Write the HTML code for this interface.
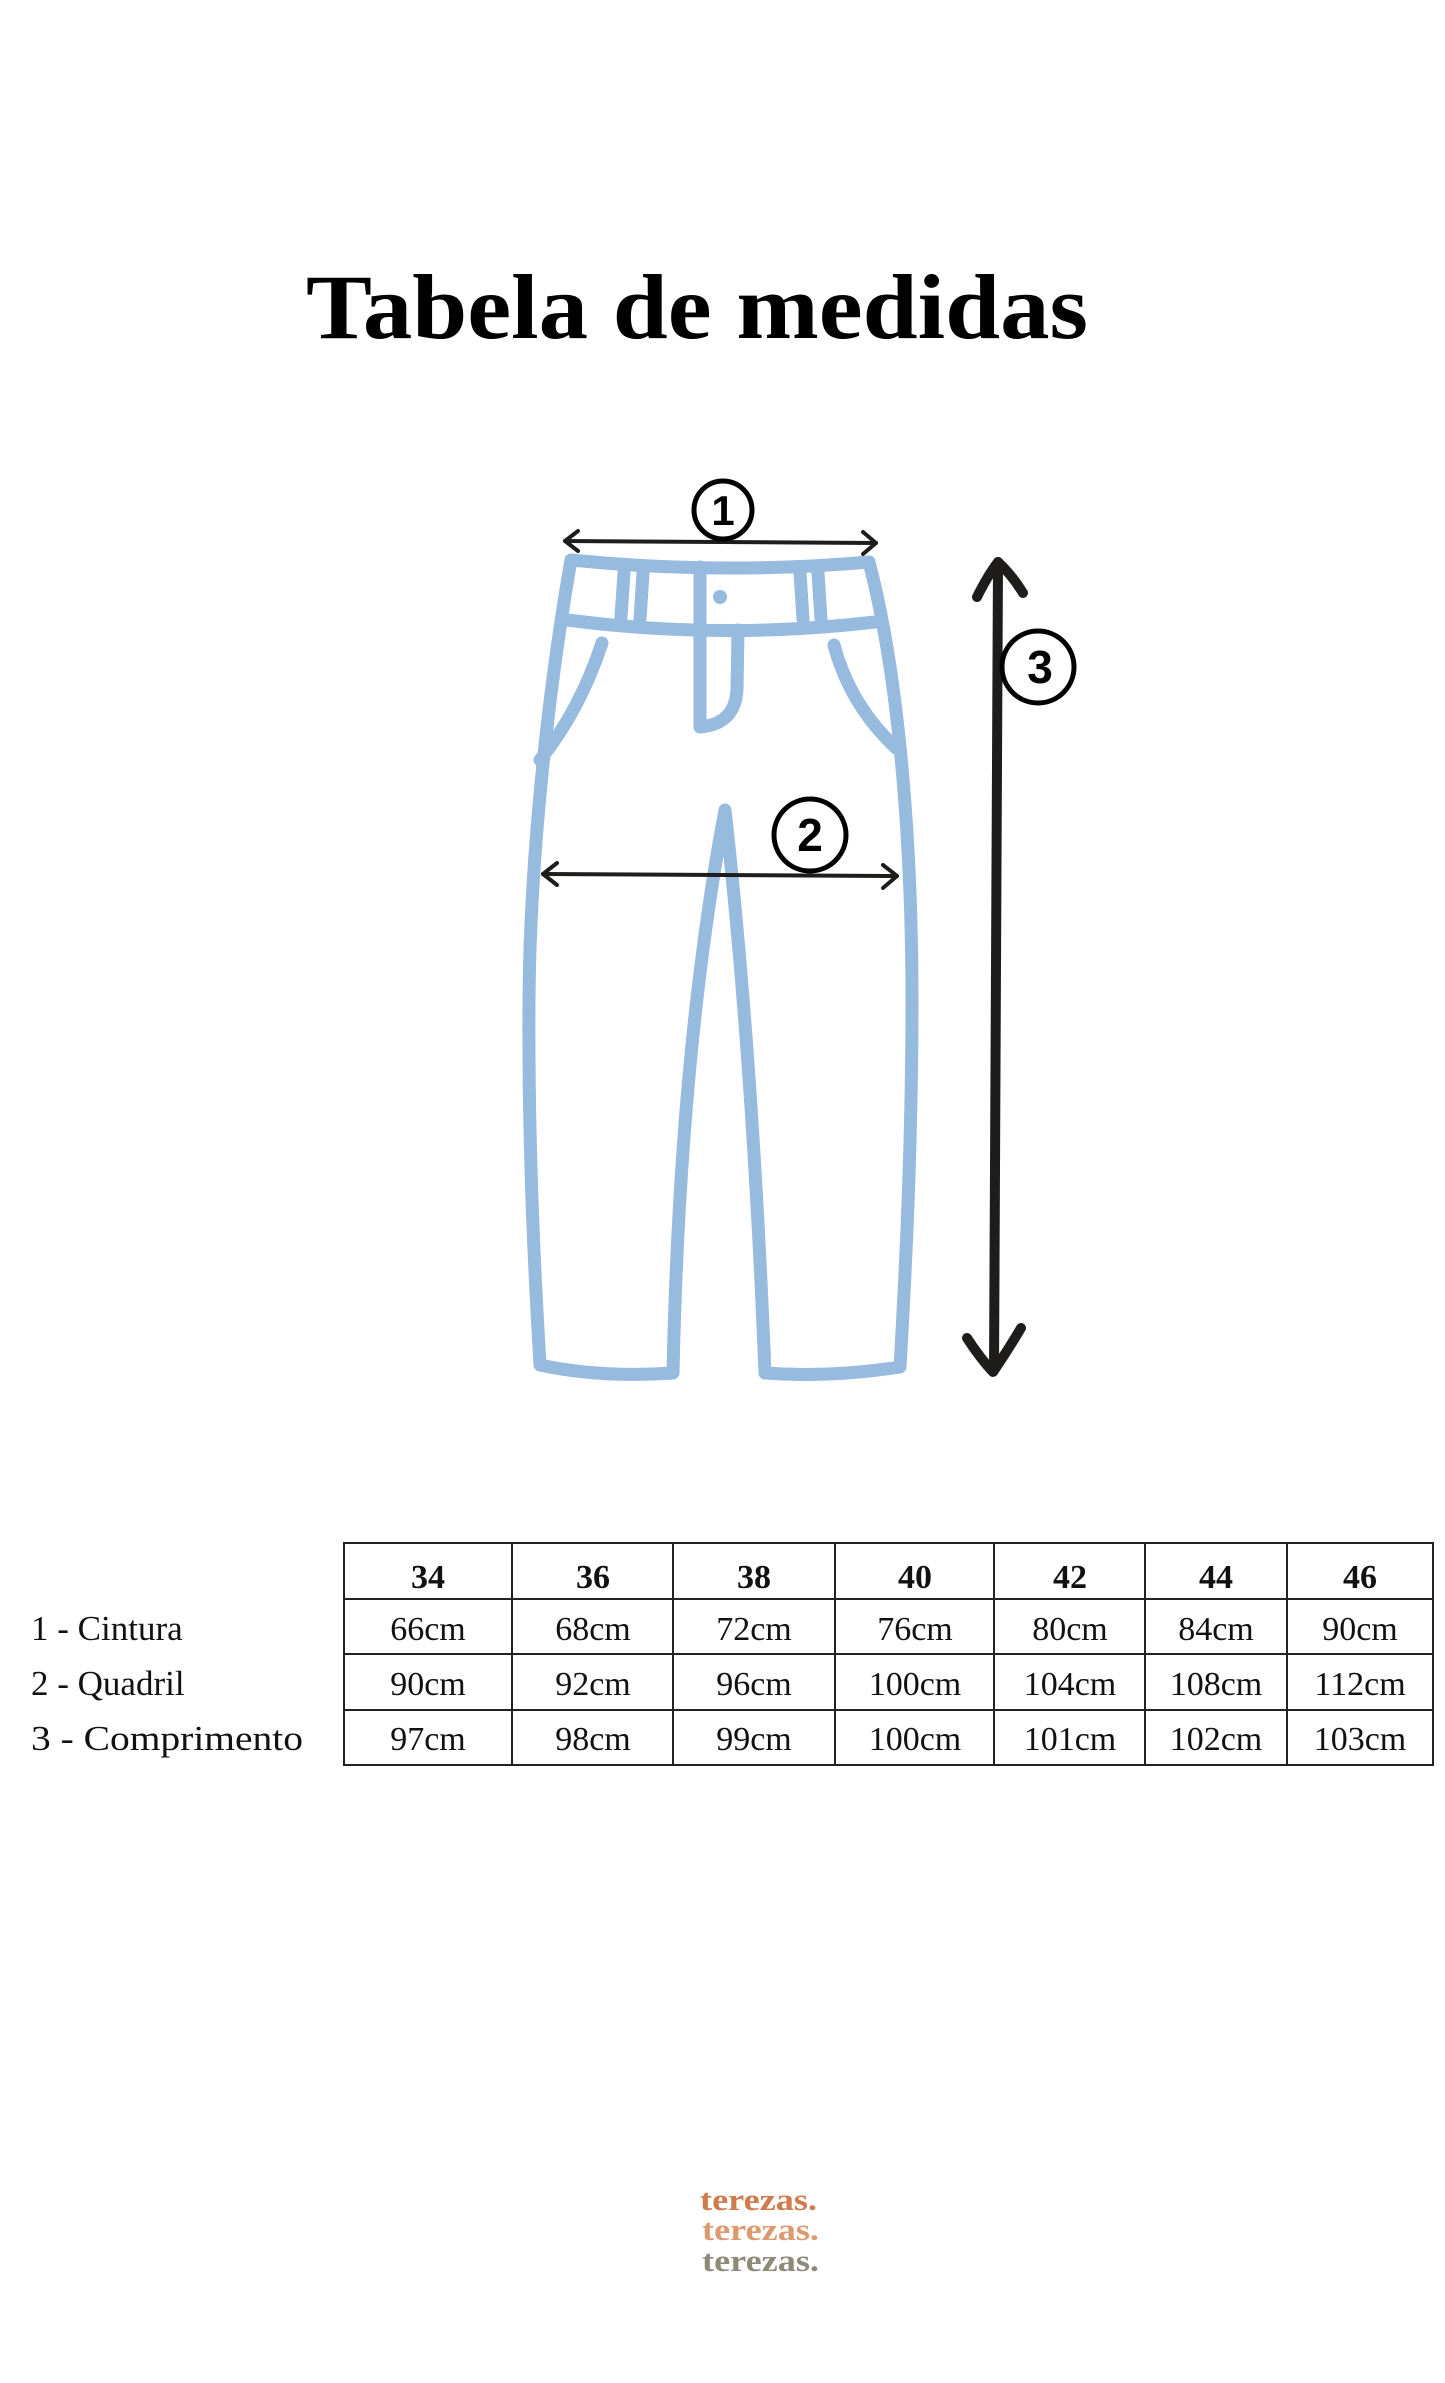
<!DOCTYPE html>
<html><head><meta charset="utf-8"><style>
html,body{margin:0;padding:0;background:#fff}
svg{display:block}
</style></head><body>
<svg width="1445" height="2383" viewBox="0 0 1445 2383" xmlns="http://www.w3.org/2000/svg">
<rect width="1445" height="2383" fill="#fff"/>
<text x="306" y="338" font-family="Liberation Serif, serif" font-weight="bold" font-size="92" textLength="782" lengthAdjust="spacingAndGlyphs" fill="#000">Tabela de medidas</text>

<g fill="none" stroke="#97badf" stroke-width="13" stroke-linecap="round" stroke-linejoin="round">
<path d="M571,560 Q721,575 869,562"/>
<path d="M567,620 Q721,640 875,622"/>
<path d="M571,560 C550,680 530,850 529,1000 C528,1150 535,1280 540,1365 Q600,1378 673,1373 Q680,1050 725,810 Q752,1050 765,1373 Q830,1378 900,1367 C905,1280 912,1150 912,1000 C912,850 900,680 869,562"/>
<path d="M624,573 L621,617 M643,573 L640,619"/>
<path d="M800,573 L803,619 M818,573 L821,619"/>
<path d="M700,567 L700,727 Q735,724 737,690 L738,630"/>
<path d="M602,643 Q580,710 540,760"/>
<path d="M834,645 Q850,705 896,748"/>
</g>
<circle cx="720" cy="597" r="7" fill="#97badf"/>

<g fill="none" stroke="#1f1c1c" stroke-linecap="round" stroke-linejoin="round">
<path d="M565,541 L876,543" stroke-width="4"/>
<path d="M578,531 L565,541 L578,551 M863,532 L876,543 L863,554" stroke-width="4"/>
<path d="M543,874 L897,876" stroke-width="4"/>
<path d="M557,863 L543,874 L557,885 M883,865 L897,876 L883,888" stroke-width="4"/>
<path d="M998,562 L994,1370" stroke-width="10"/>
<path d="M977,597 Q988,575 998,562 Q1012,575 1023,593 M967,1338 Q980,1358 993,1372 Q1008,1350 1021,1328" stroke-width="10"/>
</g>
<g fill="#fff" stroke="#000" stroke-width="5">
<circle cx="723" cy="510" r="29"/>
<circle cx="810" cy="835" r="36"/>
<circle cx="1038" cy="667" r="36"/>
</g>
<g font-family="Liberation Sans, sans-serif" font-weight="bold" text-anchor="middle" fill="#000">
<text x="723" y="525" font-size="42">1</text>
<text x="810" y="851" font-size="46">2</text>
<text x="1040" y="683" font-size="46">3</text>
</g>

<g stroke="#222" stroke-width="2" fill="none">
<rect x="344" y="1543" width="1089" height="222"/>
<path d="M344,1599H1433M344,1654H1433M344,1710H1433"/>
<path d="M512,1543V1765M673,1543V1765M835,1543V1765M994,1543V1765M1145,1543V1765M1287,1543V1765"/>
</g>
<g font-family="Liberation Serif, serif" font-size="34" fill="#111" text-anchor="middle">
<g font-weight="bold">
<text x="428" y="1588">34</text><text x="593" y="1588">36</text><text x="754" y="1588">38</text><text x="915" y="1588">40</text><text x="1070" y="1588">42</text><text x="1216" y="1588">44</text><text x="1360" y="1588">46</text>
</g>
<text x="428" y="1640">66cm</text><text x="593" y="1640">68cm</text><text x="754" y="1640">72cm</text><text x="915" y="1640">76cm</text><text x="1070" y="1640">80cm</text><text x="1216" y="1640">84cm</text><text x="1360" y="1640">90cm</text>
<text x="428" y="1695">90cm</text><text x="593" y="1695">92cm</text><text x="754" y="1695">96cm</text><text x="915" y="1695">100cm</text><text x="1070" y="1695">104cm</text><text x="1216" y="1695">108cm</text><text x="1360" y="1695">112cm</text>
<text x="428" y="1750">97cm</text><text x="593" y="1750">98cm</text><text x="754" y="1750">99cm</text><text x="915" y="1750">100cm</text><text x="1070" y="1750">101cm</text><text x="1216" y="1750">102cm</text><text x="1360" y="1750">103cm</text>
</g>
<g font-family="Liberation Serif, serif" font-size="35" fill="#111">
<text x="31" y="1640">1 - Cintura</text>
<text x="31" y="1695">2 - Quadril</text>
<text x="31" y="1750" textLength="272" lengthAdjust="spacingAndGlyphs">3 - Comprimento</text>
</g>
<g font-family="Liberation Serif, serif" font-weight="bold" font-size="31">
<text x="700" y="2210" fill="#d17a4c" textLength="117" lengthAdjust="spacingAndGlyphs">terezas.</text>
<text x="702" y="2240" fill="#dc9a70" textLength="117" lengthAdjust="spacingAndGlyphs">terezas.</text>
<text x="702" y="2271" fill="#8e8a78" textLength="117" lengthAdjust="spacingAndGlyphs">terezas.</text>
</g>
</svg>
</body></html>
